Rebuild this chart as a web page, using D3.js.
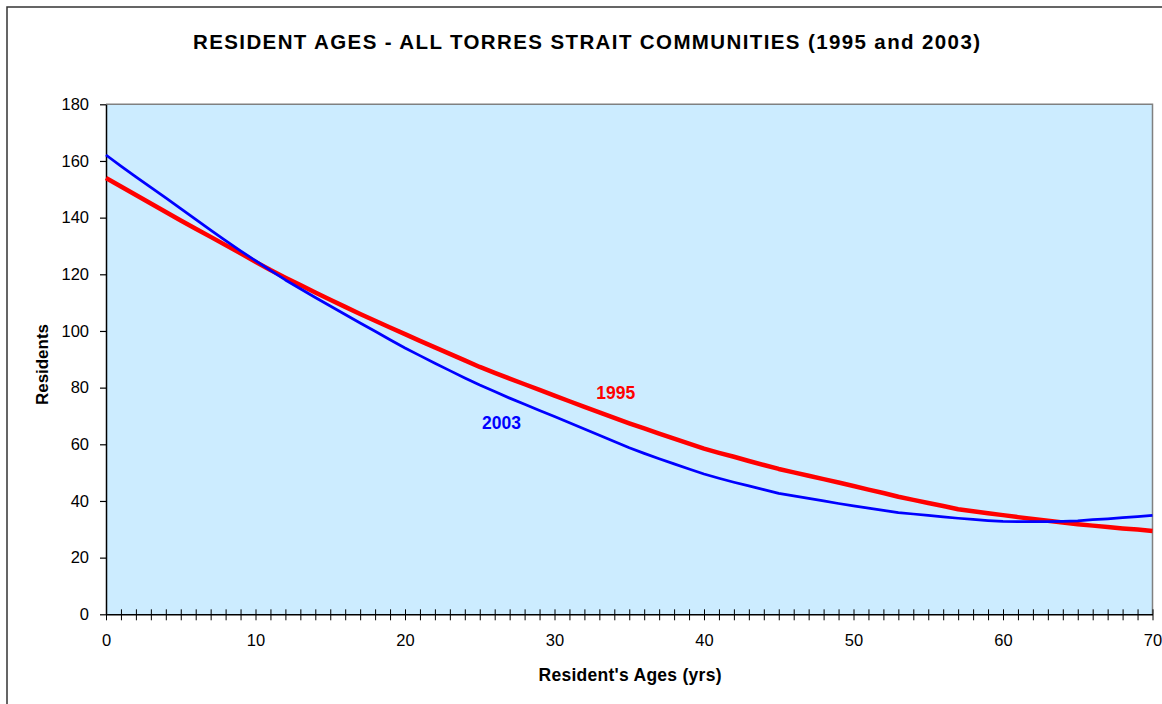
<!DOCTYPE html>
<html>
<head>
<meta charset="utf-8">
<script src="https://cdn.jsdelivr.net/npm/d3@7"></script>
<style>
  html, body { margin: 0; padding: 0; background: #ffffff; }
  svg { display: block; font-family: "Liberation Sans", Arial, sans-serif; }
</style>
</head>
<body>
<svg id="chart" width="1162" height="704"></svg>
<script>
// Resident counts by single year of age, all Torres Strait communities
const ages = d3.range(0, 71);

const residents1995 = [
  154.0, 151.0, 148.0, 145.0, 142.0, 139.0, 136.1, 133.2, 130.3, 127.4,
  124.4, 121.5, 118.8, 116.2, 113.6, 111.0, 108.5, 106.0, 103.6, 101.2,
  98.9, 96.5, 94.2, 91.9, 89.6, 87.3, 85.2, 83.2, 81.2, 79.2,
  77.2, 75.2, 73.2, 71.3, 69.3, 67.4, 65.6, 63.8, 62.0, 60.2,
  58.5, 57.0, 55.6, 54.1, 52.7, 51.3, 50.1, 48.9, 47.7, 46.5,
  45.3, 44.0, 42.8, 41.5, 40.4, 39.3, 38.2, 37.1, 36.4, 35.7,
  35.0, 34.3, 33.6, 33.0, 32.4, 31.8, 31.3, 30.8, 30.3, 29.9,
  29.4
];

const residents2003 = [
  162.1, 158.2, 154.4, 150.7, 147.0, 143.2, 139.4, 135.6, 131.9, 128.3,
  124.8, 121.4, 118.0, 114.9, 111.8, 108.8, 105.8, 102.8, 99.9, 96.9,
  94.0, 91.3, 88.6, 86.0, 83.4, 80.9, 78.6, 76.3, 74.1, 71.9,
  69.8, 67.6, 65.4, 63.2, 61.0, 58.8, 56.8, 54.9, 53.1, 51.3,
  49.5, 48.0, 46.6, 45.3, 44.0, 42.7, 41.8, 40.9, 40.0, 39.1,
  38.3, 37.5, 36.7, 35.9, 35.4, 34.9, 34.4, 33.9, 33.5, 33.1,
  32.8, 32.7, 32.7, 32.7, 32.8, 33.0, 33.4, 33.7, 34.1, 34.5,
  34.9
];

const yTicks = [0, 20, 40, 60, 80, 100, 120, 140, 160, 180];
const xLabelTicks = [0, 10, 20, 30, 40, 50, 60, 70];

const titleText = "RESIDENT AGES - ALL TORRES STRAIT COMMUNITIES (1995 and 2003)";
const xTitle = "Resident's Ages (yrs)";
const yTitle = "Residents";

const svg = d3.select("#chart");

// outer chart frame (right and bottom edges run off the page)
svg.append("rect")
  .attr("x", 7).attr("y", 7)
  .attr("width", 1200).attr("height", 750)
  .attr("fill", "#ffffff")
  .attr("stroke", "#333333")
  .attr("stroke-width", 1.5);

const plot = { left: 106, right: 1152.5, top: 104.3, bottom: 614.3 };

const x = d3.scaleLinear().domain([0, 70]).range([plot.left, plot.right]);
const y = d3.scaleLinear().domain([0, 180]).range([plot.bottom, plot.top]);

// plot area background
svg.append("rect")
  .attr("x", plot.left).attr("y", plot.top)
  .attr("width", plot.right - plot.left)
  .attr("height", plot.bottom - plot.top)
  .attr("fill", "#CCECFF");

// grey border on the top and right of the plot area
svg.append("path")
  .attr("d", `M${plot.left},${plot.top}H${plot.right}V${plot.bottom}`)
  .attr("fill", "none")
  .attr("stroke", "#808080")
  .attr("stroke-width", 1.5);

// y axis
const yAxis = svg.append("g")
  .attr("transform", `translate(${plot.left},0)`)
  .call(d3.axisLeft(y).tickValues(yTicks).tickSize(6).tickPadding(11).tickSizeOuter(0));
yAxis.select(".domain").attr("stroke", "#000").attr("stroke-width", 1.5);
yAxis.selectAll(".tick line").attr("stroke", "#000").attr("stroke-width", 1.2);
yAxis.selectAll(".tick text")
  .attr("font-size", 16.5)
  .attr("font-family", "Liberation Sans, Arial, sans-serif")
  .attr("fill", "#000");

// x axis: a cross tick every year, labels every ten years
const xAxis = svg.append("g")
  .attr("transform", `translate(0,${plot.bottom})`)
  .call(d3.axisBottom(x).tickValues(ages).tickSize(6).tickPadding(14).tickSizeOuter(0)
    .tickFormat(d => xLabelTicks.includes(d) ? d3.format("d")(d) : ""));
xAxis.select(".domain").attr("stroke", "#000").attr("stroke-width", 1.5);
xAxis.selectAll(".tick line")
  .attr("y1", -5)
  .attr("stroke", "#000")
  .attr("stroke-width", 1);
xAxis.selectAll(".tick text")
  .attr("font-size", 16.5)
  .attr("font-family", "Liberation Sans, Arial, sans-serif")
  .attr("fill", "#000");

// series lines
const line = d3.line()
  .x((d, i) => x(ages[i]))
  .y(d => y(d));

svg.append("path")
  .datum(residents1995)
  .attr("d", line)
  .attr("fill", "none")
  .attr("stroke", "#FF0000")
  .attr("stroke-width", 4.5)
  .attr("stroke-linejoin", "round");

svg.append("path")
  .datum(residents2003)
  .attr("d", line)
  .attr("fill", "none")
  .attr("stroke", "#0000FF")
  .attr("stroke-width", 2.75)
  .attr("stroke-linejoin", "round");

// series labels
svg.append("text")
  .attr("x", x(32.8)).attr("y", y(75.9))
  .attr("font-size", 17.5).attr("font-weight", "bold")
  .attr("fill", "#FF0000")
  .text("1995");

svg.append("text")
  .attr("x", x(25.15)).attr("y", y(65.4))
  .attr("font-size", 17.5).attr("font-weight", "bold")
  .attr("fill", "#0000FF")
  .text("2003");

// titles
svg.append("text")
  .attr("x", 193).attr("y", 49)
  .attr("font-size", 20.5).attr("font-weight", "bold")
  .attr("textLength", 787).attr("lengthAdjust", "spacing")
  .attr("fill", "#000")
  .text(titleText);

svg.append("text")
  .attr("x", 538.5).attr("y", 680.5)
  .attr("font-size", 17.5).attr("font-weight", "bold")
  .attr("textLength", 183).attr("lengthAdjust", "spacing")
  .attr("fill", "#000")
  .text(xTitle);

svg.append("text")
  .attr("transform", "translate(48.3,405) rotate(-90)")
  .attr("font-size", 17).attr("font-weight", "bold")
  .attr("textLength", 81).attr("lengthAdjust", "spacing")
  .attr("fill", "#000")
  .text(yTitle);
</script>
</body>
</html>
